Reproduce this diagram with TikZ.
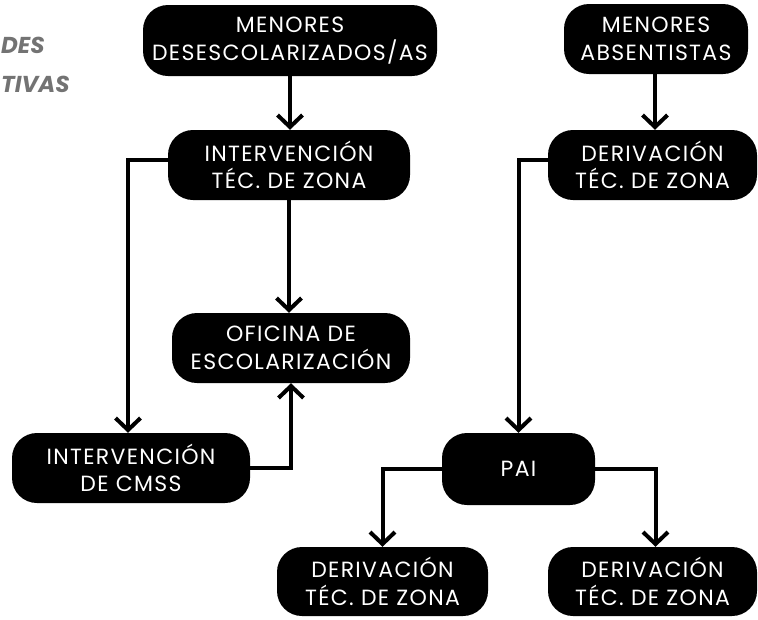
\documentclass[tikz,border=0pt]{standalone}
\usepackage{fontspec}
\setmainfont{Poppins}[LetterSpace=6]
\newfontfamily\headfont{Poppins}
\usetikzlibrary{arrows.meta}
\definecolor{headgrey}{HTML}{737373}
\tikzset{
  box/.style={rectangle, rounded corners=25pt, fill=black, text=white,
    align=center, inner sep=0pt, font=\fontsize{22}{27.5}\selectfont},
  conn/.style={line width=4pt, -{Straight Barb[length=12pt,width=25pt]}},
  head/.style={text=headgrey, font=\headfont\fontsize{23}{25}\selectfont\bfseries\itshape, inner sep=0pt, anchor=base west}
}
\begin{document}
\begin{tikzpicture}[x=1pt,y=-1pt]
\useasboundingbox (0,0) rectangle (758,619);
\node[head] (h1) at (1,53) {DES};
\node[head] (h2) at (1,92) {TIVAS};

\node[box, minimum width=294pt, minimum height=71pt] (md) at (290,40.5) {MENORES\\DESESCOLARIZADOS/AS};
\node[box, minimum width=184pt, minimum height=70pt] (ma) at (656,39) {MENORES\\ABSENTISTAS};
\node[box, minimum width=242pt, minimum height=70pt] (iv) at (289,165) {INTERVENCIÓN\\TÉC. DE ZONA};
\node[box, minimum width=209pt, minimum height=70pt] (dr) at (652.5,165) {DERIVACIÓN\\TÉC. DE ZONA};
\node[box, minimum width=238pt, minimum height=70pt] (of) at (291,348) {OFICINA DE\\ESCOLARIZACIÓN};
\node[box, minimum width=238pt, minimum height=70pt] (cm) at (131,468) {INTERVENCIÓN\\DE CMSS};
\node[box, minimum width=153pt, minimum height=72pt] (pai) at (518.5,469) {PAI};
\node[box, minimum width=211pt, minimum height=69pt] (dl) at (382.5,581.5) {DERIVACIÓN\\TÉC. DE ZONA};
\node[box, minimum width=209pt, minimum height=69pt] (d2) at (652.5,581.5) {DERIVACIÓN\\TÉC. DE ZONA};

\draw[conn] (md.south) -- (md.south |- iv.north);
\draw[conn] ([xshift=-1pt]ma.south) -- ([xshift=-1pt]ma.south |- dr.north);
\draw[conn] (iv.south) -- (iv.south |- of.north);
\draw[conn] ([yshift=5pt]iv.west) -| ([xshift=-3pt]cm.north);
\draw[conn] (cm.east) -| (of.south);
\draw[conn] ([yshift=5pt]dr.west) -| (pai.north);
\draw[conn] (pai.west) -| (dl.north);
\draw[conn] (pai.east) -| ([xshift=3pt]d2.north);
\end{tikzpicture}
\end{document}
